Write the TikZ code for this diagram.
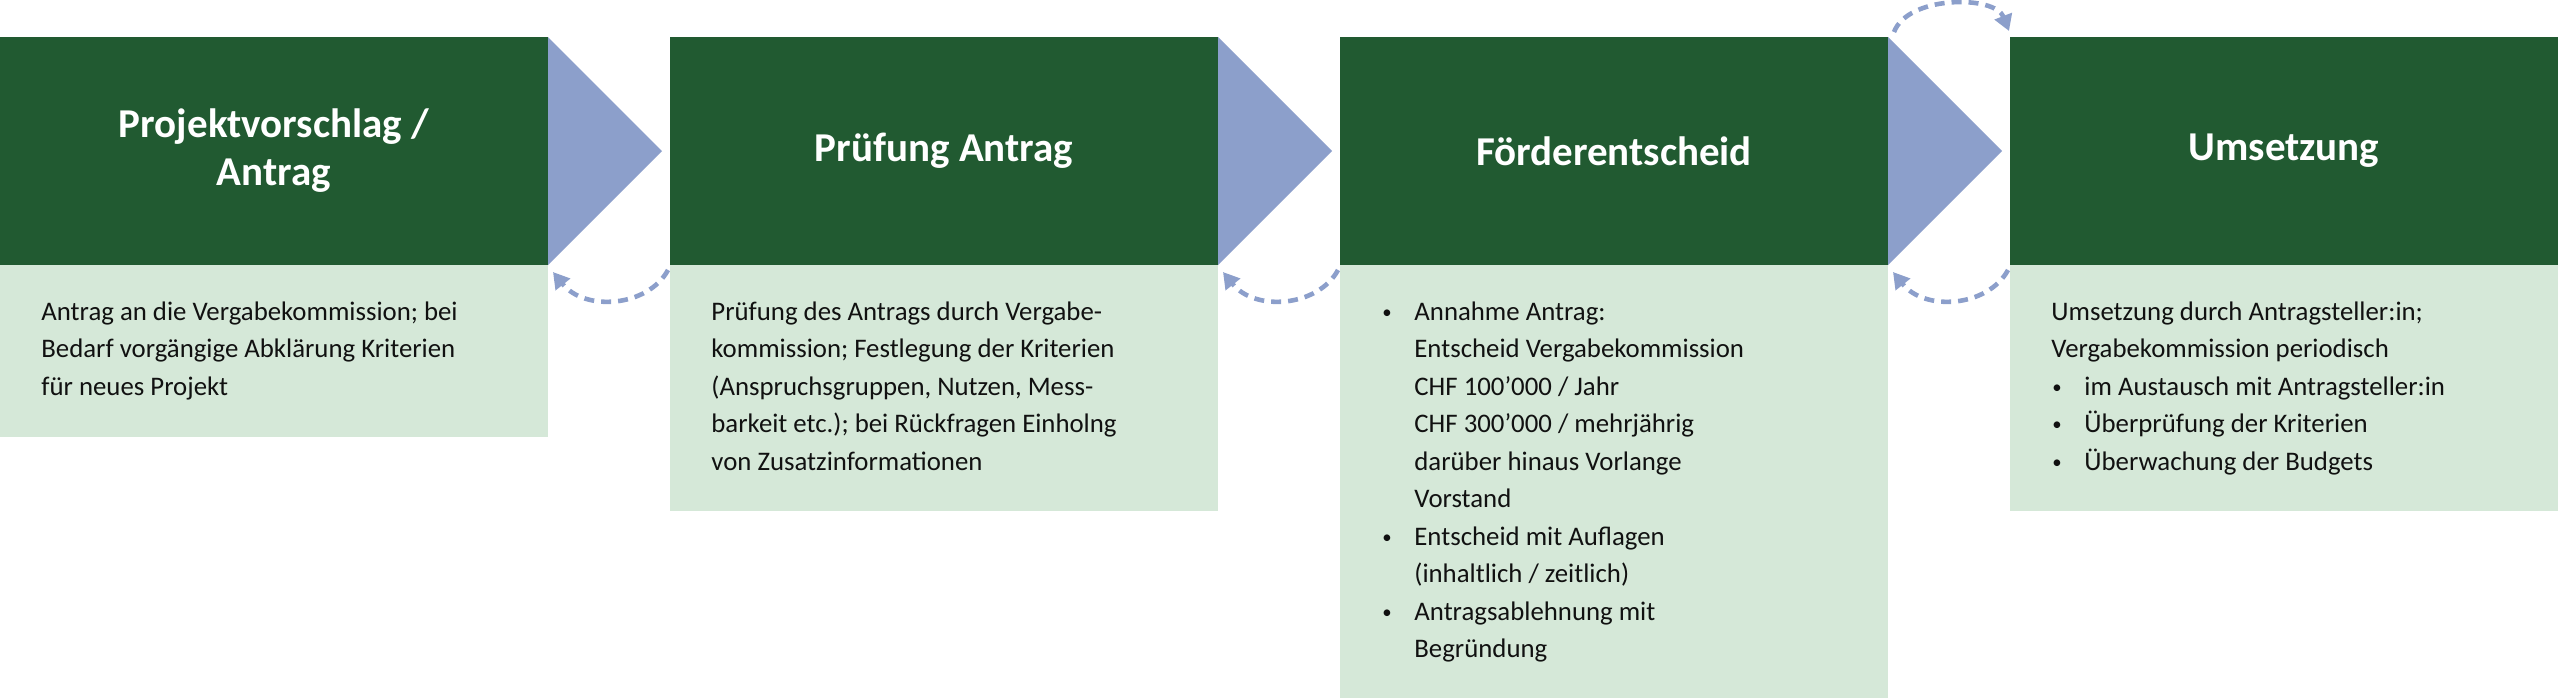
\documentclass[tikz,border=0pt]{standalone}
\usepackage{fontspec}
\setmainfont{Carlito}
\usetikzlibrary{arrows.meta,calc}
\definecolor{dkgreen}{HTML}{215A31}
\definecolor{ltgreen}{HTML}{D5E8D8}
\definecolor{lav}{HTML}{8C9FCB}
\definecolor{ink}{HTML}{111111}
\newcommand\bul{\makebox[16.5pt][l]{\hspace{0.5pt}\raisebox{0.15ex}{\scalebox{0.7}{\textbullet}}}}
\newcommand\ind{\hspace*{16.5pt}}
\begin{document}
\begin{tikzpicture}[x=0.5pt,y=-0.5pt,
 head/.style={fill=dkgreen, text=white, font=\fontsize{20.5}{24}\selectfont\bfseries, align=center, minimum width=274pt, minimum height=114pt, inner sep=0pt, outer sep=0pt, anchor=north west},
 bodybox/.style={fill=ltgreen, minimum width=274pt, inner sep=0pt, outer sep=0pt, anchor=north west},
 bodytext/.style={text=ink, inner sep=0pt, anchor=base west, font=\fontsize{13.4}{18.75}\selectfont},
 tri/.style={fill=lav},
 ret/.style={draw=lav, line width=2.3pt, dash pattern=on 5pt off 3.5pt, -{Triangle[length=8pt,width=9pt]}}
]
\useasboundingbox (0,0) rectangle (2560,698);

% headers
\node[head] (h1) at (0,37) {Projektvorschlag /\\Antrag};
\node[head] (h2) at (670,37) {Prüfung Antrag};
\node[head] (h3) at (1340,37) {Förderentscheid};
\node[head] (h4) at (2010,37) {Umsetzung};

% bodies
\node[bodybox, minimum height=86pt] (b1) at (0,265) {};
\node[bodybox, minimum height=123pt] (b2) at (670,265) {};
\node[bodybox, minimum height=216.5pt] (b3) at (1340,265) {};
\node[bodybox, minimum height=123pt] (b4) at (2010,265) {};

% triangles
\fill[tri] (h1.north east) -- ($(h1.east)+(114,0)$) -- (h1.south east) -- cycle;
\fill[tri] (h2.north east) -- ($(h2.east)+(114,0)$) -- (h2.south east) -- cycle;
\fill[tri] (h3.north east) -- ($(h3.east)+(114,0)$) -- (h3.south east) -- cycle;

% body texts
\node[bodytext] (t1) at (41,320) {\parbox[t]{270pt}{\raggedright
Antrag an die Vergabekommission; bei\\
Bedarf vorgängige Abklärung Kriterien\\
für neues Projekt}};
\node[bodytext] (t2) at (711,320) {\parbox[t]{270pt}{\raggedright
Prüfung des Antrags durch Vergabe-\\
kommission; Festlegung der Kriterien\\
(Anspruchsgruppen, Nutzen, Mess-\\
barkeit etc.); bei Rückfragen Einholng\\
von Zusatzinformationen}};
\node[bodytext] (t3) at (1381,320) {\parbox[t]{270pt}{\raggedright
\bul Annahme Antrag:\\
\ind Entscheid Vergabekommission\\
\ind CHF 100’000 / Jahr\\
\ind CHF 300’000 / mehrjährig\\
\ind darüber hinaus Vorlange\\
\ind Vorstand\\
\bul Entscheid mit Auflagen\\
\ind (inhaltlich / zeitlich)\\
\bul Antragsablehnung mit\\
\ind Begründung}};
\node[bodytext] (t4) at (2051,320) {\parbox[t]{270pt}{\raggedright
Umsetzung durch Antragsteller:in;\\
Vergabekommission periodisch\\
\bul im Austausch mit Antragsteller:in\\
\bul Überprüfung der Kriterien\\
\bul Überwachung der Budgets}};

% return arcs
\draw[ret] ($(b2.north west)+(-2,5)$) .. controls ($(b2.north west)+(-22,42)$) and ($(h1.south east)+(37,47)$) .. ($(h1.south east)+(5,7)$);
\draw[ret] ($(b3.north west)+(-2,5)$) .. controls ($(b3.north west)+(-22,42)$) and ($(h2.south east)+(37,47)$) .. ($(h2.south east)+(5,7)$);
\draw[ret] ($(b4.north west)+(-2,5)$) .. controls ($(b4.north west)+(-22,42)$) and ($(h3.south east)+(37,47)$) .. ($(h3.south east)+(5,7)$);
% forward arc
\draw[ret] ($(h3.north east)+(6,-5)$) .. controls ($(h3.north east)+(20,-42)$) and ($(h4.north west)+(-15,-42)$) .. ($(h4.north west)+(-1,-6)$);
\end{tikzpicture}
\end{document}
